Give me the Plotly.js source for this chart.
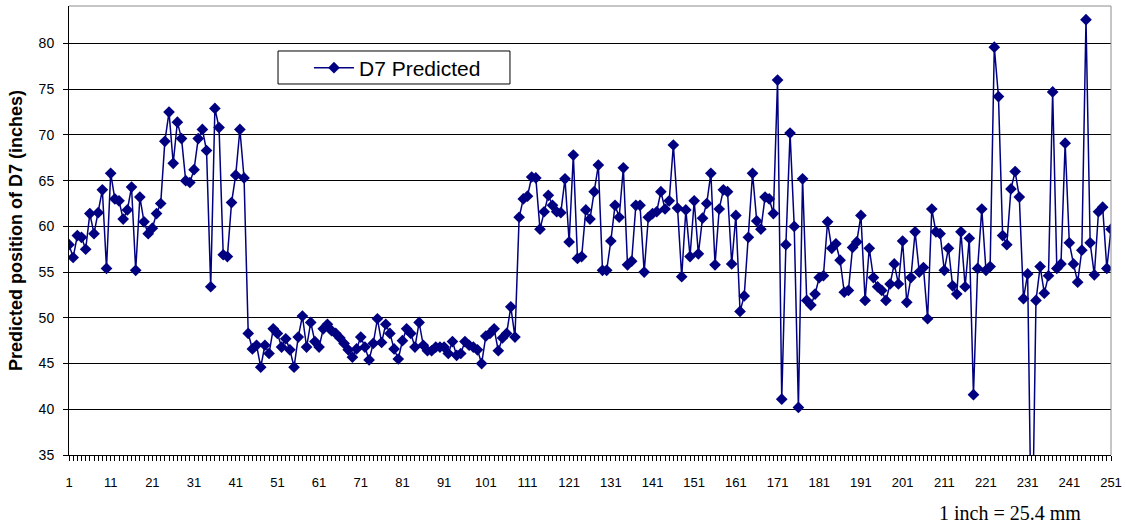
<!DOCTYPE html>
<html>
<head>
<meta charset="utf-8">
<script src="https://cdn.plot.ly/plotly-3.0.1.min.js"></script>
<style>html,body{margin:0;padding:0;background:#fff;}#chart{width:1126px;height:527px;}</style>
</head>
<body>
<div id="chart"></div>
<script>
// Predicted position of D7 (inches), samples 1..251
const predictedD7 = [
  58.0, 56.6, 59.0, 58.8, 57.5, 61.4, 59.2, 61.5, 64.0, 55.4,
  65.8, 63.0, 62.8, 60.8, 61.8, 64.3, 55.2, 63.2, 60.5, 59.2,
  59.8, 61.4, 62.5, 69.3, 72.5, 66.9, 71.4, 69.6, 65.0, 64.8,
  66.2, 69.6, 70.6, 68.3, 53.4, 72.9, 70.8, 56.9, 56.7, 62.6,
  65.6, 70.6, 65.3, 48.3, 46.6, 47.0, 44.6, 47.0, 46.1, 48.8,
  48.3, 46.8, 47.7, 46.5, 44.6, 47.9, 50.2, 46.8, 49.5, 47.4,
  46.8, 48.8, 49.3, 48.6, 48.3, 47.8, 47.2, 46.5, 45.7, 46.6,
  47.9, 46.8, 45.4, 47.2, 49.9, 47.3, 49.3, 48.3, 46.6, 45.5,
  47.5, 48.8, 48.3, 46.8, 49.5, 47.0, 46.4, 46.4, 46.8, 46.8,
  46.8, 46.1, 47.4, 45.9, 46.1, 47.4, 47.0, 46.8, 46.5, 45.0,
  48.0, 48.3, 48.8, 46.4, 47.8, 48.3, 51.2, 47.9, 61.0, 63.0,
  63.3, 65.4, 65.3, 59.7, 61.6, 63.4, 62.3, 61.6, 61.5, 65.2,
  58.3, 67.8, 56.5, 56.7, 61.8, 60.8, 63.8, 66.7, 55.2, 55.2,
  58.4, 62.3, 61.0, 66.4, 55.8, 56.2, 62.3, 62.3, 55.0, 61.0,
  61.4, 61.6, 63.8, 61.9, 62.8, 68.9, 62.0, 54.5, 61.8, 56.7,
  62.8, 57.0, 60.9, 62.5, 65.8, 55.8, 61.9, 64.0, 63.8, 55.9,
  61.2, 50.7, 52.4, 58.8, 65.8, 60.6, 59.7, 63.2, 63.0, 61.4,
  76.0, 41.1, 58.0, 70.2, 60.0, 40.2, 65.2, 51.9, 51.4, 52.6,
  54.4, 54.6, 60.5, 57.6, 58.1, 56.3, 52.8, 53.0, 57.7, 58.3,
  61.2, 51.9, 57.6, 54.4, 53.4, 53.0, 51.9, 53.7, 55.9, 53.7,
  58.4, 51.7, 54.4, 59.4, 55.0, 55.5, 49.9, 61.9, 59.4, 59.2,
  55.2, 57.6, 53.5, 52.6, 59.4, 53.4, 58.7, 41.6, 55.4, 61.9,
  55.2, 55.6, 79.6, 74.2, 59.0, 58.0, 64.1, 66.0, 63.2, 52.1,
  54.8, 22.0, 51.9, 55.6, 52.7, 54.6, 74.7, 55.4, 55.9, 69.1,
  58.2, 55.9, 53.9, 57.4, 82.6, 58.2, 54.7, 61.6, 62.1, 55.4,
  59.7
];
const sampleNumbers = predictedD7.map((_, i) => i + 1);
const xTickValues = [1, 11, 21, 31, 41, 51, 61, 71, 81, 91, 101, 111, 121, 131, 141, 151, 161, 171, 181, 191, 201, 211, 221, 231, 241, 251];
const xTickLabels = ["1", "11", "21", "31", "41", "51", "61", "71", "81", "91", "101", "111", "121", "131", "141", "151", "161", "171", "181", "191", "201", "211", "221", "231", "241", "251"];
const yTickValues = [35, 40, 45, 50, 55, 60, 65, 70, 75, 80];
const seriesName = "D7 Predicted";
const yTitle = "Predicted position of D7 (inches)";
const noteText = "1 inch = 25.4 mm";

const navy = "#000080";
const sans = "Liberation Sans, Arial, sans-serif";

const trace = {
  type: "scatter",
  mode: "lines+markers",
  name: seriesName,
  x: sampleNumbers,
  y: predictedD7,
  line: {color: navy, width: 1.5},
  marker: {symbol: "diamond", size: 9, color: navy},
  cliponaxis: true
};

const layout = {
  width: 1126,
  height: 527,
  margin: {l: 69, r: 15, t: 6, b: 72},
  paper_bgcolor: "#ffffff",
  plot_bgcolor: "#ffffff",
  showlegend: true,
  legend: {
    x: 0.2303, y: 0.9076,
    xanchor: "left", yanchor: "top",
    bgcolor: "rgba(0,0,0,0)",
    borderwidth: 0,
    itemwidth: 40,
    font: {family: sans, size: 21, color: "#000000"}
  },
  xaxis: {
    range: [1, 251],
    tickmode: "array",
    tickvals: xTickValues,
    ticktext: xTickLabels,
    ticks: "outside",
    ticklen: 5,
    tickcolor: "#000000",
    minor: {ticks: "outside", ticklen: 5, tickmode: "linear", tick0: 1, dtick: 1, tickcolor: "#000000", showgrid: false},
    showgrid: false,
    zeroline: false,
    showline: true,
    linecolor: "#000000",
    linewidth: 1,
    ticklabelstandoff: 10,
    tickfont: {family: sans, size: 13, color: "#000000"}
  },
  yaxis: {
    range: [35, 84.1],
    tickmode: "array",
    tickvals: yTickValues,
    ticks: "outside",
    ticklen: 5,
    tickcolor: "#000000",
    showgrid: true,
    gridcolor: "#000000",
    gridwidth: 1,
    zeroline: false,
    showline: true,
    linecolor: "#000000",
    linewidth: 1,
    ticklabelstandoff: 6,
    tickfont: {family: sans, size: 14, color: "#000000"},
    title: {text: yTitle, font: {family: sans, size: 18, color: "#000000", weight: "bold"}, standoff: 11}
  },
  shapes: [
    {type: "line", xref: "paper", yref: "paper", x0: 0, x1: 1, y0: 1, y1: 1, line: {color: "#8c8c8c", width: 1}},
    {type: "line", xref: "paper", yref: "paper", x0: 1, x1: 1, y0: 0, y1: 1, line: {color: "#8c8c8c", width: 1}},
    {type: "rect", xref: "paper", yref: "paper", x0: 0.2006, x1: 0.4232, y0: 0.8263, y1: 0.8998,
     line: {color: "#000000", width: 1}, fillcolor: "rgba(0,0,0,0)"}
  ],
  annotations: [
    {text: noteText, xref: "paper", yref: "paper", x: 0.903, y: -0.129, xanchor: "center", yanchor: "middle",
     showarrow: false, font: {family: "Liberation Serif, Times New Roman, serif", size: 20, color: "#000000"}}
  ]
};

Plotly.newPlot("chart", [trace], layout, {displayModeBar: false, staticPlot: true});
</script>
</body>
</html>
